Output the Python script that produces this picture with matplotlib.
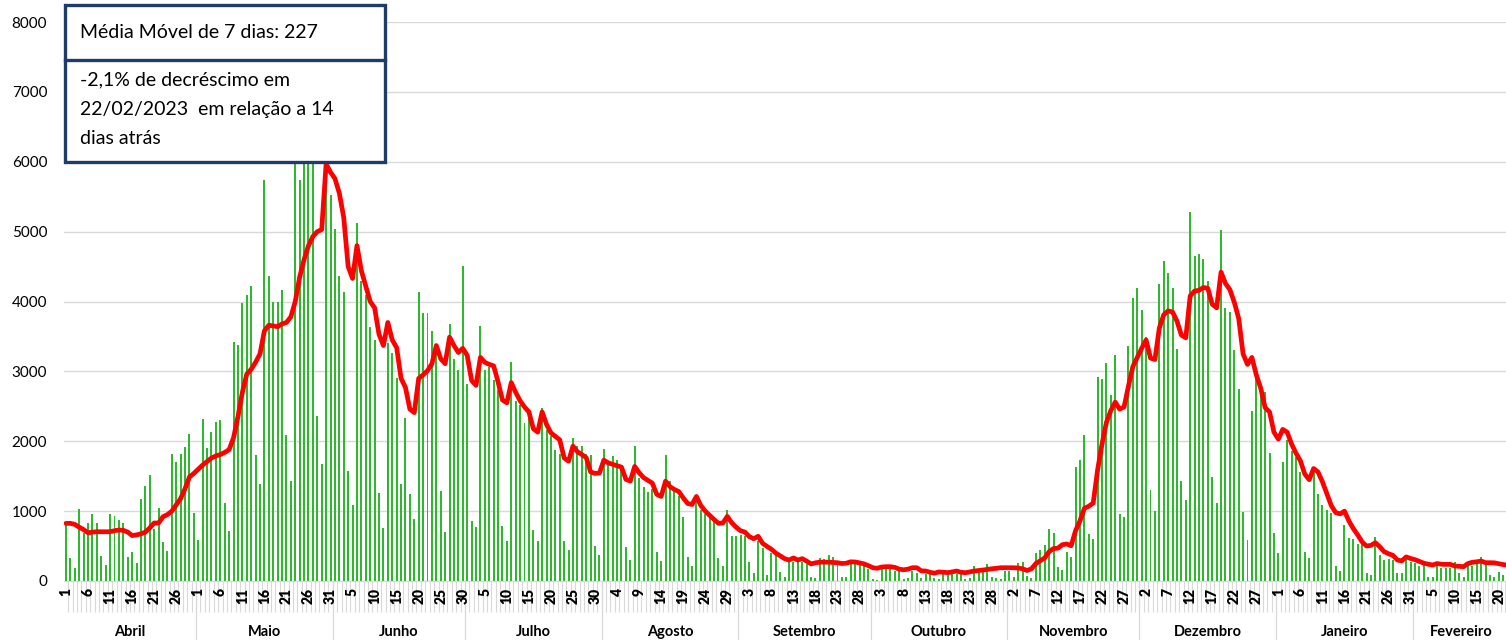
import matplotlib.pyplot as plt
import numpy as np
import pandas as pd
from matplotlib.patches import Rectangle
from matplotlib.lines import Line2D
from matplotlib.collections import LineCollection

plt.rcParams['font.family'] = ['Lato', 'DejaVu Sans']

# dias de 01/04/2022 a 22/02/2023
dates = pd.date_range('2022-04-01', '2023-02-22', freq='D')

months = ['Abril', 'Maio', 'Junho', 'Julho', 'Agosto', 'Setembro', 'Outubro',
          'Novembro', 'Dezembro', 'Janeiro', 'Fevereiro']
month_days = [30, 31, 30, 31, 31, 30, 31, 30, 31, 31, 22]

casos_abr = [830, 325, 180, 1025, 680, 825, 960, 825, 360, 230,
             960, 935, 875, 825, 340, 420, 255, 1180, 1360, 1515,
             740, 1040, 565, 430, 1815, 1705, 1815, 1920, 2100, 970]
casos_mai = [590, 2315, 1904, 2134, 2271, 2299, 1121, 721, 3422, 3384,
             3981, 4096, 4227, 1805, 1395, 5734, 4364, 3997, 3997, 4162,
             2096, 1433, 6300, 5734, 6500, 6400, 6200, 2364, 1668, 7500,
             5521]
casos_jun = [5038, 4370, 4134, 1575, 1082, 5121, 4288, 4096, 3630, 3449,
             1258, 753, 3411, 3258, 2901, 1395, 2326, 1241, 885, 4134,
             3833, 3837, 3574, 3300, 1282, 708, 3684, 3172, 3014, 4507]
casos_jul = [2818, 856, 766, 3646, 3014, 3057, 2880, 2727, 794, 574,
             3134, 2574, 2522, 2263, 2450, 727, 574, 2471, 2167, 2071,
             1881, 1824, 567, 438, 2052, 1929, 1938, 1824, 1810, 500,
             367]
casos_ago = [1890, 1690, 1786, 1738, 1629, 486, 305, 1938, 1476, 1343,
             1276, 1319, 414, 281, 1810, 1438, 1333, 1214, 919, 348,
             214, 1167, 1010, 962, 943, 905, 324, 214, 1010, 643,
             643]
casos_set = [652, 643, 276, 110, 571, 476, 86, 395, 395, 125,
             62, 310, 276, 276, 276, 238, 62, 38, 324, 310,
             367, 348, 238, 62, 62, 238, 238, 238, 214, 167]
casos_out = [33, 10, 167, 167, 167, 143, 143, 24, 38, 143,
             120, 40, 105, 105, 38, 24, 105, 105, 105, 105,
             105, 24, 38, 214, 143, 190, 238, 62, 38, 24,
             143]
casos_nov = [143, 62, 262, 272, 72, 48, 397, 445, 512, 742,
             694, 206, 158, 421, 340, 1627, 1737, 2096, 675, 603,
             2919, 2895, 3115, 2656, 3230, 962, 914, 3364, 4048, 4187]
casos_dez = [3876, 3498, 1297, 1005, 4249, 4584, 4407, 4187, 3316, 1426,
             1163, 5278, 4646, 4675, 4608, 4297, 1488, 1115, 5029, 3900,
             3856, 3301, 2742, 981, 589, 2431, 3029, 2738, 2700, 1833,
             681]
casos_jan = [395, 1700, 2024, 1857, 1776, 1557, 414, 329, 1548, 1252,
             1081, 1014, 967, 214, 143, 795, 619, 595, 524, 524,
             110, 86, 633, 371, 300, 319, 300, 110, 110, 295,
             271]
casos_fev = [262, 214, 248, 62, 62, 214, 190, 190, 190, 276,
             110, 62, 276, 214, 300, 348, 276, 81, 62, 129,
             86, 200]

media_movel = [825, 825, 810, 770, 735, 690, 700, 705, 705, 705,
               705, 720, 730, 725, 700, 650, 660, 675, 700, 760,
               830, 830, 920, 950, 1000, 1090, 1180, 1320, 1490, 1540,
               1600, 1660, 1710, 1760, 1790, 1810, 1840, 1880, 2050, 2350,
               2700, 2960, 3030, 3130, 3250, 3580, 3660, 3650, 3640, 3680,
               3700, 3780, 4000, 4350, 4600, 4800, 4930, 5000, 5030, 5970,
               5850, 5760, 5550, 5200, 4500, 4330, 4800, 4440, 4220, 4000,
               3910, 3530, 3370, 3700, 3450, 3340, 2900, 2770, 2460, 2410,
               2900, 2950, 3010, 3110, 3370, 3180, 3110, 3490, 3370, 3270,
               3330, 3230, 2870, 2800, 3200, 3130, 3100, 3080, 2850, 2590,
               2550, 2840, 2700, 2580, 2490, 2420, 2180, 2130, 2420, 2240,
               2120, 2070, 2020, 1760, 1715, 1930, 1850, 1810, 1765, 1560,
               1540, 1545, 1730, 1690, 1670, 1650, 1630, 1455, 1430, 1640,
               1550, 1480, 1440, 1400, 1240, 1210, 1430, 1350, 1310, 1280,
               1190, 1110, 1095, 1210, 1080, 1000, 940, 880, 825, 830,
               925, 835, 770, 720, 700, 635, 605, 640, 540, 495,
               455, 400, 360, 320, 300, 330, 300, 320, 285, 245,
               260, 270, 270, 270, 265, 262, 250, 255, 275, 272,
               260, 245, 220, 190, 182, 200, 205, 205, 195, 170,
               160, 170, 190, 190, 145, 143, 125, 112, 130, 125,
               120, 130, 143, 125, 119, 130, 143, 150, 157, 167,
               175, 181, 190, 190, 190, 190, 185, 175, 150, 175,
               250, 290, 330, 420, 465, 470, 520, 530, 505, 720,
               860, 1040, 1070, 1115, 1590, 1960, 2270, 2440, 2560, 2460,
               2490, 2790, 3070, 3200, 3330, 3450, 3190, 3170, 3620, 3810,
               3866, 3850, 3720, 3520, 3480, 4080, 4150, 4160, 4200, 4190,
               3960, 3910, 4420, 4260, 4170, 3990, 3760, 3250, 3100, 3200,
               2950, 2760, 2480, 2420, 2130, 2030, 2170, 2130, 1960, 1830,
               1720, 1530, 1450, 1610, 1560, 1420, 1250, 1080, 980, 960,
               1000, 860, 750, 660, 560, 500, 510, 548, 490, 420,
               390, 367, 300, 288, 345, 322, 305, 280, 255, 240,
               229, 250, 240, 238, 238, 215, 210, 205, 250, 268,
               275, 286, 262, 262, 260, 248, 235, 227]

casos = (casos_abr + casos_mai + casos_jun + casos_jul + casos_ago + casos_set
         + casos_out + casos_nov + casos_dez + casos_jan + casos_fev)

df = pd.DataFrame({'data': dates, 'casos': casos, 'media': media_movel})
x = np.arange(len(df))

# figure 1506 x 640 px
fig = plt.figure(figsize=(15.06, 6.4), dpi=100)
W, H = 1506, 640
ax = fig.add_axes([63.8 / W, 59 / H, 1446 / W, 559 / H])

ax.bar(x, df['casos'], width=0.45, color='#2EB82E', zorder=2)
ax.plot(x, df['media'], color='#FF0000', linewidth=3.4, zorder=3,
        solid_joinstyle='round', solid_capstyle='round')

ax.set_xlim(-0.5, len(df) - 0.5)
ax.set_ylim(0, 8000)
ax.set_yticks(np.arange(0, 8001, 1000))
ax.yaxis.grid(True, color='#D9D9D9', linewidth=1.0)
ax.set_axisbelow(True)
for s in ['top', 'right', 'left']:
    ax.spines[s].set_visible(False)
ax.spines['bottom'].set_color('#D9D9D9')
ax.tick_params(axis='y', length=0, labelsize=11, pad=12)

# rótulos dos dias (a cada 5 dias)
major = x[::5]
ax.set_xticks(major)
ax.set_xticklabels([str(d.day) for d in df['data'][::5]], rotation=90,
                   fontsize=10, fontweight='heavy')
ax.tick_params(axis='x', which='major', length=0, pad=5)

# marcas de cada dia, desenhadas por baixo dos rótulos
trans = ax.get_xaxis_transform()
segs = [[(b, 0), (b, -0.056)] for b in x[:-1] + 0.5]
ax.add_collection(LineCollection(segs, colors='#D9D9D9', linewidths=0.8,
                                 transform=trans, clip_on=False, zorder=0.1))

# nível dos meses
start = 0
for name, n in zip(months, month_days):
    if start > 0:
        ax.add_line(Line2D([start - 0.5, start - 0.5], [0, -0.11], transform=trans,
                           color='#D9D9D9', linewidth=0.9, clip_on=False, zorder=0.1))
    ax.text(start + (n - 1) / 2, -0.091, name, transform=trans, ha='center',
            va='center', fontsize=10.5, fontweight='bold')
    start += n

# caixa de texto
c_box = '#1F3B67'
x0, x1 = 65 / W, 385 / W
y_top, y_mid, y_bot = 1 - 5 / H, 1 - 60 / H, 1 - 162 / H
fig.add_artist(Rectangle((x0, y_bot), x1 - x0, y_top - y_bot, transform=fig.transFigure,
                         facecolor='white', edgecolor=c_box, linewidth=2.4, zorder=5))
fig.add_artist(Line2D([x0, x1], [y_mid, y_mid], transform=fig.transFigure,
                      color=c_box, linewidth=2.4, zorder=6))
fig.text(80 / W, 1 - 33 / H, 'Média Móvel de 7 dias: 227', fontsize=14,
         va='center', ha='left', zorder=7)
for i, linha in enumerate(['-2,1% de decréscimo em', '22/02/2023  em relação a 14',
                           'dias atrás']):
    fig.text(80 / W, 1 - (80 + 29 * i) / H, linha, fontsize=14,
             va='center', ha='left', zorder=7)

fig.savefig('out.png', dpi=100)
